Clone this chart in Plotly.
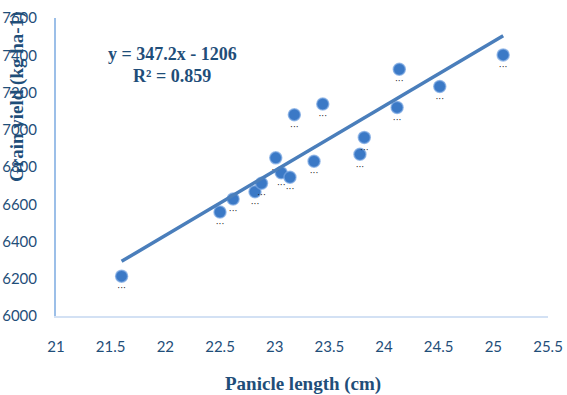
import plotly.graph_objects as go

panicle_length = [21.60, 22.50, 22.62, 22.82, 22.88, 23.01, 23.06, 23.14, 23.18,
                  23.36, 23.44, 23.78, 23.82, 24.12, 24.14, 24.51, 25.09]
grain_yield = [6214, 6558, 6628, 6667, 6713, 6849, 6769, 6745, 7081,
               6831, 7138, 6868, 6959, 7120, 7325, 7232, 7402]
slope = 347.2
intercept = -1206
trend_x = [min(panicle_length), max(panicle_length)]
trend_y = [slope * v + intercept for v in trend_x]

x_ticks = [21, 21.5, 22, 22.5, 23, 23.5, 24, 24.5, 25, 25.5]
y_ticks = [6000, 6200, 6400, 6600, 6800, 7000, 7200, 7400, 7600]

fig = go.Figure()
fig.add_trace(go.Scatter(
    x=panicle_length, y=grain_yield, mode="markers+text",
    text=["···"] * len(panicle_length), textposition="bottom center",
    textfont=dict(size=9, color="#222222", family="DejaVu Sans"),
    marker=dict(size=12, color="#3b79c6", line=dict(width=1.5, color="rgba(120,165,225,0.7)")),
    showlegend=False, hoverinfo="x+y"))
fig.add_trace(go.Scatter(
    x=trend_x, y=trend_y, mode="lines",
    line=dict(color="#4a7ebb", width=3.5), showlegend=False))

tick_font = dict(family="Lato", size=15, color="#1f4e79")
L, R, T, B = 56, 19, 18, 79
W, H = 567, 395
pw = W - L - R
ph = H - T - B


def px(x, y):
    return (x - L) / pw, (H - B - y) / ph


annots = []
for text, x, y, size, angle in [
    ("<b>y = 347.2x - 1206</b>", 172, 54, 18, 0),
    ("<b>R² = 0.859</b>", 172, 76, 18, 0),
    ("<b>Panicle length (cm)</b>", 303, 384, 19, 0),
    ("<b>Grain yield (kg ha-1)</b>", 17, 97, 19, -90),
]:
    ax, ay = px(x, y)
    annots.append(dict(text=text, x=ax, y=ay, xref="x domain", yref="y domain",
                       xanchor="center", yanchor="middle", showarrow=False, textangle=angle,
                       font=dict(family="Liberation Serif", size=size, color="#1f4e79")))

fig.update_layout(
    width=W, height=H,
    margin=dict(l=L, r=R, t=T, b=B, autoexpand=False),
    plot_bgcolor="white", paper_bgcolor="white",
    xaxis=dict(range=[21, 25.5], tickvals=x_ticks, ticktext=[str(v) for v in x_ticks],
               showgrid=False, zeroline=False, showline=True, linecolor="#d3e1f4", linewidth=2,
               ticks="", tickfont=tick_font, ticklabelstandoff=16, automargin=False),
    yaxis=dict(range=[6000, 7600], tickvals=y_ticks, showgrid=False, zeroline=False,
               showline=True, linecolor="#9cbfe8", linewidth=2, ticks="",
               tickfont=tick_font, ticklabelstandoff=14, automargin=False),
    annotations=annots,
)

fig.write_html("out.html")
